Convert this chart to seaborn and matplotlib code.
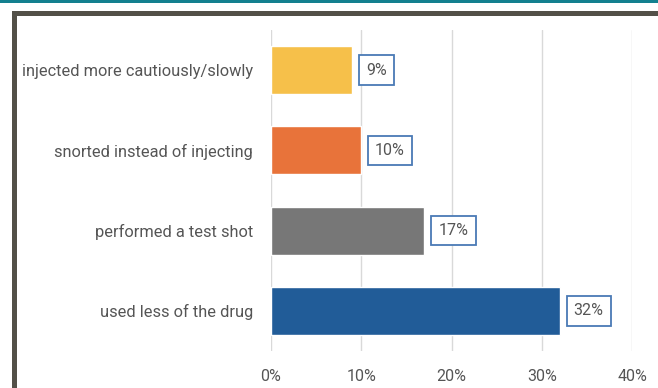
import matplotlib
matplotlib.use("Agg")
import matplotlib.pyplot as plt
from matplotlib.patches import Rectangle
from matplotlib.ticker import FuncFormatter
import seaborn as sns
import pandas as pd

categories = [
    "injected more cautiously/slowly",
    "snorted instead of injecting",
    "performed a test shot",
    "used less of the drug",
]
shares = [0.09, 0.10, 0.17, 0.32]
value_labels = ["9%", "10%", "17%", "32%"]
bar_colors = ["#F6C04A", "#E8733A", "#777777", "#215C98"]
x_ticks = [0.0, 0.1, 0.2, 0.3, 0.4]

df = pd.DataFrame({"category": categories, "share": shares})

sns.set_theme(style="white")
plt.rcParams["font.family"] = ["Roboto", "DejaVu Sans"]

fig = plt.figure(figsize=(6.58, 3.88), dpi=100)
fig.patch.set_facecolor("white")

# teal strip along the top edge and the dark frame around the chart panel
fig.patches.append(Rectangle((0, 1 - 3 / 388), 1, 3 / 388, transform=fig.transFigure,
                             facecolor="#13808F", edgecolor="none", zorder=0))
fig.patches.append(Rectangle((13.5 / 658, -0.1), 1.2, 1 - 12.5 / 388 + 0.1,
                             transform=fig.transFigure, facecolor="none",
                             edgecolor="#535048", linewidth=3.6, zorder=0))

ax = fig.add_axes([271 / 658, 1 - 351 / 388, (632 - 271) / 658, (351 - 30) / 388])
sns.barplot(data=df, x="share", y="category", hue="category", palette=bar_colors,
            legend=False, width=0.6, saturation=1, ax=ax, zorder=3)

ax.set_xlim(0, 0.4)
ax.set_ylim(3.5, -0.5)
ax.set_xticks(x_ticks)
ax.xaxis.set_major_formatter(FuncFormatter(lambda v, _: f"{v * 100:.0f}%"))
ax.grid(axis="x", color="#D9D9D9", linewidth=1, zorder=0)
for s in ax.spines.values():
    s.set_visible(False)
ax.set_xlabel("")
ax.set_ylabel("")
ax.tick_params(axis="x", length=0, pad=13, labelsize=11.5, labelcolor="#555555")
ax.tick_params(axis="y", length=0, pad=13, labelsize=11.8, labelcolor="#555555")

for i, (v, lab) in enumerate(zip(shares, value_labels)):
    ax.annotate(lab, xy=(v, i), xytext=(10, 0), textcoords="offset points",
                ha="left", va="center", fontsize=11.5, color="#555555",
                bbox=dict(boxstyle="square,pad=0.45", facecolor="white",
                          edgecolor="#4A7AB5", linewidth=1.3))

fig.savefig("out.png", dpi=100)
